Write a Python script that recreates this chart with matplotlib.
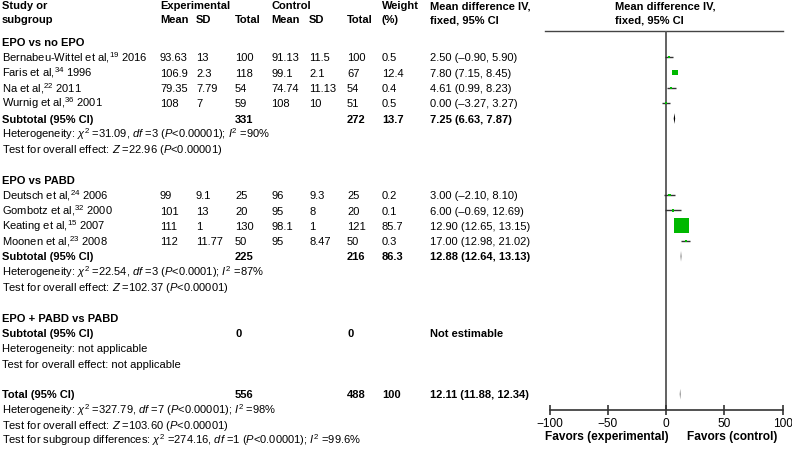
import numpy as np
import matplotlib
matplotlib.use('Agg')
import matplotlib.pyplot as plt

plt.rcParams['font.family'] = ['Liberation Sans', 'DejaVu Sans']
plt.rcParams['mathtext.fontset'] = 'custom'
plt.rcParams['mathtext.rm'] = 'Liberation Sans'
plt.rcParams['mathtext.it'] = 'Liberation Sans:italic'
plt.rcParams['mathtext.bf'] = 'Liberation Sans:bold'

# 데이터
groups = ['EPO vs no EPO', 'EPO vs PABD', 'EPO + PABD vs PABD']
studies = ['Bernabeu-Wittel et al,', 'Faris et al,', 'Na et al,', 'Wurnig et al,',
           'Deutsch et al,', 'Gombotz et al,', 'Keating et al,', 'Moonen et al,']
refs = ['19', '34', '22', '36', '24', '32', '15', '23']
years = ['2016', '1996', '2011', '2001', '2006', '2000', '2007', '2008']
exp_mean = ['93.63', '106.9', '79.35', '108', '99', '101', '111', '112']
exp_sd = ['13', '2.3', '7.79', '7', '9.1', '13', '1', '11.77']
exp_n = [100, 118, 54, 59, 25, 20, 130, 50]
ctl_mean = ['91.13', '99.1', '74.74', '108', '96', '95', '98.1', '95']
ctl_sd = ['11.5', '2.1', '11.13', '10', '9.3', '8', '1', '8.47']
ctl_n = [100, 67, 54, 51, 25, 20, 121, 50]
weight = [0.5, 12.4, 0.4, 0.5, 0.2, 0.1, 85.7, 0.3]
md = [2.50, 7.80, 4.61, 0.00, 3.00, 6.00, 12.90, 17.00]
ci_lo = [-0.90, 7.15, 0.99, -3.27, -2.10, -0.69, 12.65, 12.98]
ci_hi = [5.90, 8.45, 8.23, 3.27, 8.10, 12.69, 13.15, 21.02]

# subtotal / total (마지막이 total)
sub_exp_n = [331, 225, 0, 556]
sub_ctl_n = [272, 216, 0, 488]
sub_weight = ['13.7', '86.3', '', '100']
sub_md = [7.25, 12.88, None, 12.11]
sub_lo = [6.63, 12.64, None, 11.88]
sub_hi = [7.87, 13.13, None, 12.34]

het_text = [r'Heterogeneity: $\chi^2$ =31.09, $df$ =3 ($P$<0.00001); $I^2$ =90%',
            r'Heterogeneity: $\chi^2$ =22.54, $df$ =3 ($P$<0.0001); $I^2$ =87%',
            'Heterogeneity: not applicable',
            r'Heterogeneity: $\chi^2$ =327.79, $df$ =7 ($P$<0.00001); $I^2$ =98%']
test_text = [r'Test for overall effect: $Z$ =22.96 ($P$<0.00001)',
             r'Test for overall effect: $Z$ =102.37 ($P$<0.00001)',
             'Test for overall effect: not applicable',
             r'Test for overall effect: $Z$ =103.60 ($P$<0.00001)']
subgroup_text = r'Test for subgroup differences: $\chi^2$ =274.16, $df$ =1 ($P$<0.00001); $I^2$ =99.6%'

xticks = [-100, -50, 0, 50, 100]

# 레이아웃 (픽셀 -> 행)
W, H = 792, 449
y0, dy = 42, 15.31


def row(px):
    return (px - y0) / dy


fs = 8.05
green = '#00b800'

fig = plt.figure(figsize=(W / 100, H / 100), dpi=100)
ax = fig.add_axes([0, 0, 1, 1])
ax.set_xlim(0, W)
ax.set_ylim(row(H), row(0))
ax.axis('off')

col_x = {'study': 2, 'em': 160, 'esd': 196, 'en': 235, 'cm': 271, 'csd': 309,
         'cn': 347, 'w': 382, 'md': 430}


def put(x, r, s, bold=False, **kw):
    ax.text(x, r + 0.27, s, fontsize=fs, va='baseline', ha=kw.pop('ha', 'left'),
            fontweight='bold' if bold else 'normal', **kw)


# 헤더
put(2, row(5), 'Study or', True)
put(2, row(19), 'subgroup', True)
put(160, row(5), 'Experimental', True)
put(160, row(19), 'Mean', True)
put(196, row(19), 'SD', True)
put(235, row(19), 'Total', True)
put(271, row(5), 'Control', True)
put(271, row(19), 'Mean', True)
put(309, row(19), 'SD', True)
put(347, row(19), 'Total', True)
put(382, row(5), 'Weight', True)
put(382, row(19), '(%)', True)
put(430, row(5), 'Mean difference IV,', True)
put(430, row(19), 'fixed, 95% CI', True)
put(615, row(5), 'Mean difference IV,', True)
put(615, row(19), 'fixed, 95% CI', True)
ax.plot([545, 783], [row(30.7), row(30.7)], color='#444444', lw=1.0)

group_row = [0, 9, 18]
sub_row = [5, 14, 19, 23]
study_rows = [1, 2, 3, 4, 10, 11, 12, 13]


def fmt_ci(m, lo, hi):
    f = lambda v: ('%.2f' % v).replace('-', '\u2013')
    return '%s (%s, %s)' % (f(m), f(lo), f(hi))


for g, r in zip(groups, group_row):
    put(2, r, g, True)

for i, r in enumerate(study_rows):
    put(col_x['study'], r, '%s$^{%s}$ %s' % (studies[i], refs[i], years[i]))
    put(col_x['em'], r, exp_mean[i])
    put(col_x['esd'], r, exp_sd[i])
    put(col_x['en'], r, str(exp_n[i]))
    put(col_x['cm'], r, ctl_mean[i])
    put(col_x['csd'], r, ctl_sd[i])
    put(col_x['cn'], r, str(ctl_n[i]))
    put(col_x['w'], r, '%.1f' % weight[i])
    put(col_x['md'], r, fmt_ci(md[i], ci_lo[i], ci_hi[i]))

for k, r in enumerate(sub_row):
    put(2, r, 'Subtotal (95% CI)' if k < 3 else 'Total (95% CI)', True)
    put(col_x['en'], r, str(sub_exp_n[k]), True)
    put(col_x['cn'], r, str(sub_ctl_n[k]), True)
    put(col_x['w'], r, sub_weight[k], True)
    if sub_md[k] is None:
        put(col_x['md'], r, 'Not estimable', True)
    else:
        put(col_x['md'], r, fmt_ci(sub_md[k], sub_lo[k], sub_hi[k]), True)
    put(2, r + 1, het_text[k])
    put(2, r + 2, test_text[k])
put(2, sub_row[3] + 3, subgroup_text)

# forest plot
top_px, bot_px = 30.7, 410
fx = fig.add_axes([549.5 / W, 1 - bot_px / H, (782.5 - 549.5) / W, (bot_px - top_px) / H])
fx.set_xlim(-100, 100)
fx.set_ylim(row(bot_px), row(top_px))
fx.patch.set_alpha(0)
for s in ['top', 'left', 'right']:
    fx.spines[s].set_visible(False)
fx.spines['bottom'].set_color('#333333')
fx.spines['bottom'].set_linewidth(1.2)
fx.set_yticks([])
fx.set_xticks(xticks)
fx.tick_params(axis='x', direction='inout', length=7, width=1.2, color='#333333',
               labelsize=fs + 0.5, pad=2)

fx.axvline(0, color='#555555', lw=1.3, zorder=1)

fx.hlines(study_rows, ci_lo, ci_hi, color='#333333', lw=1.0, zorder=2)
side_px = np.maximum(15 * np.sqrt(np.array(weight) / max(weight)), 2.2)
fx.scatter(md, study_rows, s=(side_px * 0.72) ** 2, marker='s', color=green,
           linewidths=0, zorder=3)

for k, r in enumerate(sub_row):
    if sub_md[k] is None:
        continue
    fx.fill([sub_lo[k], sub_md[k], sub_hi[k], sub_md[k]],
            [r, r - 0.35, r, r + 0.35], color='black', lw=0, zorder=3)

ax.text(607, row(437), 'Favors (experimental)', fontsize=fs + 0.5, fontweight='bold',
        ha='center', va='center')
ax.text(732, row(437), 'Favors (control)', fontsize=fs + 0.5, fontweight='bold',
        ha='center', va='center')

fig.savefig('out.png', dpi=100)
